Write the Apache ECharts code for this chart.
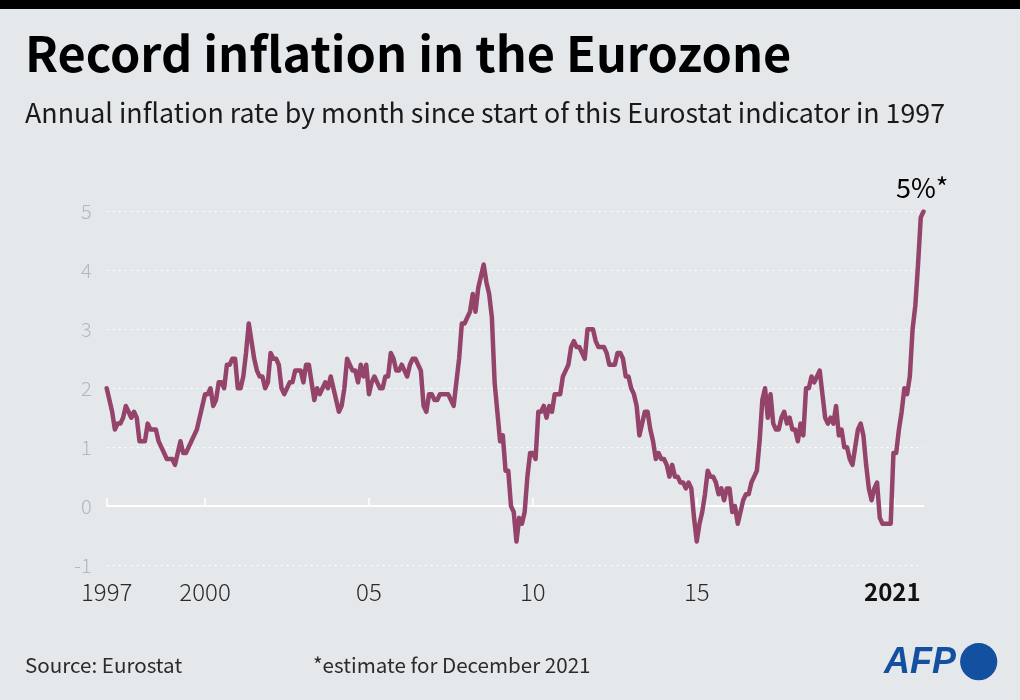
<!DOCTYPE html>
<html>
<head>
<meta charset="utf-8">
<title>Record inflation in the Eurozone</title>
<script src="https://cdn.jsdelivr.net/npm/echarts@6/dist/echarts.min.js"></script>
<style>
  html, body { margin: 0; padding: 0; background: #e5e8eb; }
  #chart { width: 1020px; height: 700px; }
</style>
</head>
<body>
<div id="chart"></div>
<script>
const FONT = '"Noto Sans CJK JP", "Noto Sans", sans-serif';

const years = [1997, 1998, 1999, 2000, 2001, 2002, 2003, 2004, 2005, 2006, 2007, 2008, 2009,
  2010, 2011, 2012, 2013, 2014, 2015, 2016, 2017, 2018, 2019, 2020, 2021];

// annual rate in %, one row per year
const rates = [
  2.0, 1.8, 1.6, 1.3, 1.4, 1.4, 1.5, 1.7, 1.6, 1.5, 1.6, 1.5,
  1.1, 1.1, 1.1, 1.4, 1.3, 1.3, 1.3, 1.1, 1.0, 0.9, 0.8, 0.8,
  0.8, 0.7, 0.9, 1.1, 0.9, 0.9, 1.0, 1.1, 1.2, 1.3, 1.5, 1.7,
  1.9, 1.9, 2.0, 1.7, 1.8, 2.1, 2.1, 2.0, 2.4, 2.4, 2.5, 2.5,
  2.0, 2.0, 2.2, 2.6, 3.1, 2.8, 2.5, 2.3, 2.2, 2.2, 2.0, 2.1,
  2.6, 2.5, 2.5, 2.4, 2.0, 1.9, 2.0, 2.1, 2.1, 2.3, 2.3, 2.3,
  2.1, 2.4, 2.4, 2.1, 1.8, 2.0, 1.9, 2.0, 2.1, 2.0, 2.2, 2.0,
  1.8, 1.6, 1.7, 2.0, 2.5, 2.4, 2.3, 2.3, 2.1, 2.4, 2.2, 2.4,
  1.9, 2.1, 2.2, 2.1, 2.0, 2.0, 2.2, 2.2, 2.6, 2.5, 2.3, 2.3,
  2.4, 2.3, 2.2, 2.4, 2.5, 2.5, 2.4, 2.3, 1.7, 1.6, 1.9, 1.9,
  1.8, 1.8, 1.9, 1.9, 1.9, 1.9, 1.8, 1.7, 2.1, 2.5, 3.1, 3.1,
  3.2, 3.3, 3.6, 3.3, 3.7, 3.9, 4.1, 3.8, 3.6, 3.2, 2.1, 1.6,
  1.1, 1.2, 0.6, 0.6, 0.0, -0.1, -0.6, -0.2, -0.3, -0.1, 0.5, 0.9,
  0.9, 0.8, 1.6, 1.6, 1.7, 1.5, 1.7, 1.6, 1.9, 1.9, 1.9, 2.2,
  2.3, 2.4, 2.7, 2.8, 2.7, 2.7, 2.6, 2.5, 3.0, 3.0, 3.0, 2.8,
  2.7, 2.7, 2.7, 2.6, 2.4, 2.4, 2.4, 2.6, 2.6, 2.5, 2.2, 2.2,
  2.0, 1.9, 1.7, 1.2, 1.4, 1.6, 1.6, 1.3, 1.1, 0.8, 0.9, 0.8,
  0.8, 0.7, 0.5, 0.7, 0.5, 0.5, 0.4, 0.4, 0.3, 0.4, 0.3, -0.2,
  -0.6, -0.3, -0.1, 0.2, 0.6, 0.5, 0.5, 0.4, 0.2, 0.3, 0.1, 0.3,
  0.3, -0.1, 0.0, -0.3, -0.1, 0.1, 0.2, 0.2, 0.4, 0.5, 0.6, 1.1,
  1.8, 2.0, 1.5, 1.9, 1.4, 1.3, 1.3, 1.5, 1.6, 1.4, 1.5, 1.3,
  1.3, 1.1, 1.4, 1.2, 2.0, 2.0, 2.2, 2.1, 2.2, 2.3, 1.9, 1.5,
  1.4, 1.5, 1.4, 1.7, 1.2, 1.3, 1.0, 1.0, 0.8, 0.7, 1.0, 1.3,
  1.4, 1.2, 0.7, 0.3, 0.1, 0.3, 0.4, -0.2, -0.3, -0.3, -0.3, -0.3,
  0.9, 0.9, 1.3, 1.6, 2.0, 1.9, 2.2, 3.0, 3.4, 4.1, 4.9, 5.0
];

const months = [];
years.forEach(y => {
  for (let m = 1; m <= 12; m++) months.push(y + '-' + String(m).padStart(2, '0'));
});

const yearLabels = { '1997-01': '1997', '2000-01': '2000', '2005-01': '05', '2010-01': '10', '2015-01': '15', '2021-01': '2021' };
const isLabelled = (i, name) => name in yearLabels;

const chart = echarts.init(document.getElementById('chart'), null, { renderer: 'canvas' });

chart.setOption({
  animation: false,
  backgroundColor: '#e5e8eb',
  grid: { left: 106.7, right: 96.5, top: 211.5, height: 353.5, containLabel: false },
  xAxis: [
    {
      // white zero line with the year ticks
      type: 'category', data: months, boundaryGap: false,
      axisLine: { onZero: true, lineStyle: { color: '#ffffff', width: 2 } },
      axisTick: { inside: true, length: 8, interval: isLabelled, lineStyle: { color: '#ffffff', width: 1.5 } },
      axisLabel: { show: false },
      splitLine: { show: false }
    },
    {
      // labels below the plot
      type: 'category', data: months, boundaryGap: false, position: 'bottom',
      axisLine: { show: false, onZero: false },
      axisTick: { show: false },
      splitLine: { show: false },
      axisLabel: {
        interval: isLabelled,
        margin: 15,
        hideOverlap: false,
        showMinLabel: true,
        showMaxLabel: false,
        formatter: v => (v === '2021-01' ? '' : yearLabels[v] || ''),
        fontFamily: FONT,
        fontSize: 24,
        fontWeight: 300,
        color: '#2b2b2b'
      }
    }
  ],
  yAxis: {
    type: 'value', min: -1, max: 5, interval: 1,
    axisLine: { show: false },
    axisTick: { show: false },
    axisLabel: { margin: 15, fontFamily: FONT, fontSize: 20, fontWeight: 300, color: '#b4b7ba' },
    splitLine: { show: true, lineStyle: { color: '#ffffff', width: 1, type: [2, 4] } }
  },
  series: [{
    type: 'line', data: rates, xAxisIndex: 0, showSymbol: false, smooth: false,
    lineStyle: { color: '#94436a', width: 4.5, join: 'round', cap: 'round' }
  }],
  graphic: [
    { type: 'rect', shape: { x: 0, y: 0, width: 1020, height: 9 }, style: { fill: '#000000' } },
    { type: 'text', x: 25, y: 29, style: { text: 'Record inflation in the Eurozone', font: 'bold 48.6px ' + FONT, fill: '#000000' } },
    { type: 'text', x: 25, y: 99, style: { text: 'Annual inflation rate by month since start of this Eurostat indicator in 1997', font: '26.8px ' + FONT, fill: '#1a1a1a' } },
    { type: 'text', x: 896, y: 174, style: { text: '5%*', font: '27px ' + FONT, fill: '#000000' } },
    { type: 'text', x: 864, y: 580, style: { text: '2021', font: 'bold 24px ' + FONT, fill: '#111111' } },
    { type: 'text', x: 25, y: 655, style: { text: 'Source: Eurostat', font: '20.6px ' + FONT, fill: '#2b2b2b' } },
    { type: 'text', x: 313, y: 655, style: { text: '*estimate for December 2021', font: '20.6px ' + FONT, fill: '#2b2b2b' } },
    { type: 'text', x: 884, y: 645, style: { text: 'AFP', font: 'italic 900 36px "Liberation Sans", ' + FONT, fill: '#1450a0' } },
    { type: 'circle', shape: { cx: 978.7, cy: 661.7, r: 18.6 }, style: { fill: '#1450a0' } }
  ]
});
</script>
</body>
</html>
